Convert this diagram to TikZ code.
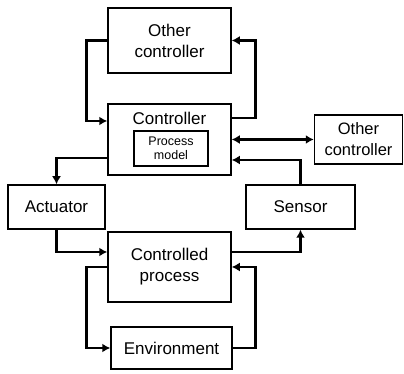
\documentclass[tikz,border=0pt]{standalone}
\usepackage{fontspec}
\setmainfont{Liberation Sans}
\usepackage{tikz}
\usetikzlibrary{arrows.meta}

\tikzset{
    box/.style={draw, line width=1.5pt, align=center, inner sep=0pt,
        font=\fontsize{17}{21}\selectfont},
    arr/.style={line width=2.6pt, -{Latex[length=8pt,width=9pt]}},
    dblarr/.style={line width=2.6pt, {Latex[length=8pt,width=9pt]}-{Latex[length=8pt,width=9pt]}}
}

\begin{document}
\begin{tikzpicture}[x=1pt,y=1pt]
\useasboundingbox (0,0) rectangle (404,374);

% Blocks
\node[box, minimum width=123pt, minimum height=65pt] (othertop) at (169.5,333.5) {Other\\controller};
\node[box, minimum width=123pt, minimum height=71pt] (ctrl) at (169.5,234.5) {};
\node[font=\fontsize{17}{21}\selectfont] at (169.5,255.5) {Controller};
\node[box, minimum width=74pt, minimum height=35pt,
      font=\fontsize{12.5}{13.5}\selectfont] (pm) at (171,225.5) {Process\\model};
\node[box, minimum width=88pt, minimum height=49pt,
      font=\fontsize{16.5}{21}\selectfont] (otherright) at (358.5,234.5) {Other\\controller};
\node[box, minimum width=97pt, minimum height=44pt] (actuator) at (56.5,167) {Actuator};
\node[box, minimum width=109pt, minimum height=44pt] (sensor) at (300.5,167) {Sensor};
\node[box, minimum width=123pt, minimum height=70pt] (process) at (169.5,107) {Controlled\\process};
\node[box, minimum width=121pt, minimum height=42pt] (env) at (171.5,26) {Environment};

% Controller and other controller (top)
\draw[arr] (othertop.west) -- ++(-21,0) |- ([yshift=18.5pt]ctrl.west);
\draw[arr] ([yshift=21.5pt]ctrl.east) -- ++(24,0) |- (othertop.east);

% Controller and other controller (right)
\draw[dblarr] (ctrl.east) -- (otherright.west);

% Control loop
\draw[arr] ([yshift=-18.5pt]ctrl.west) -| (actuator.north);
\draw[arr] (actuator.south) |- ([yshift=15pt]process.west);
\draw[arr] ([yshift=15pt]process.east) -| (sensor.south);
\draw[arr] (sensor.north) |- ([yshift=-20.5pt]ctrl.east);

% Environment
\draw[arr] (process.west) -- ++(-21,0) |- (env.west);
\draw[arr] (env.east) -- ++(23,0) |- (process.east);
\end{tikzpicture}
\end{document}
